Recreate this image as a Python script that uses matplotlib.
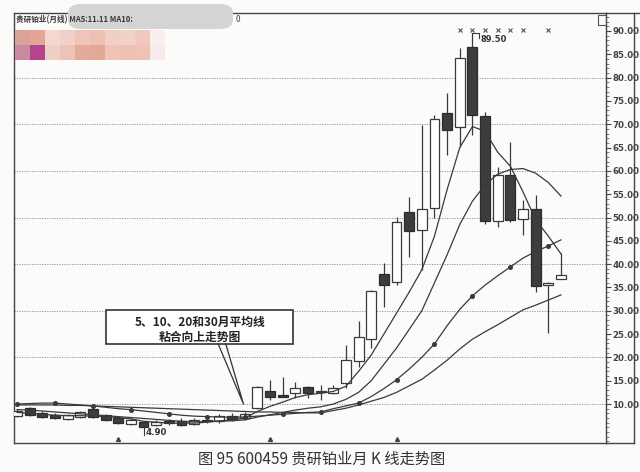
import numpy as np
import matplotlib.pyplot as plt
from matplotlib.lines import Line2D
from matplotlib.patches import Rectangle, FancyBboxPatch
from matplotlib.ticker import MultipleLocator, FixedLocator

plt.rcParams['font.family'] = ['Noto Sans CJK SC', 'DejaVu Sans']

# monthly K-line, oldest first
opens = [7.4, 9.1, 8.1, 7.6, 6.8, 7.2, 8.9, 7.6, 7.0, 5.7, 6.1, 5.5, 6.2, 6.3, 5.8,
         6.6, 6.4, 7.4, 6.9, 9.1, 12.8, 11.7, 12.4, 13.6, 12.5, 12.4, 14.5, 19.2,
         24.0, 37.8, 36.2, 51.2, 47.3, 52.0, 72.5, 69.5, 86.5, 71.7, 49.3, 59.1,
         49.7, 51.8, 35.5, 36.8]
closes = [8.5, 7.6, 7.2, 7.0, 7.6, 8.3, 7.2, 6.6, 5.9, 6.6, 5.0, 6.2, 6.0, 5.6, 6.6,
          6.3, 7.4, 6.8, 7.8, 13.6, 11.5, 11.5, 13.4, 12.4, 12.7, 13.4, 19.4, 24.4,
          34.2, 35.5, 49.1, 47.0, 51.8, 71.1, 68.7, 84.2, 72.0, 49.3, 59.1, 49.5,
          51.8, 35.3, 35.9, 37.7]
highs = [9.0, 9.4, 8.4, 8.0, 7.9, 8.6, 9.2, 7.9, 7.2, 6.9, 6.4, 6.6, 6.8, 6.9, 7.0,
         7.2, 7.8, 8.0, 8.3, 13.9, 15.2, 15.8, 14.7, 13.8, 14.1, 14.1, 22.7, 27.8,
         34.5, 40.3, 50.1, 54.3, 69.9, 72.0, 76.8, 86.4, 89.5, 72.7, 60.9, 66.3,
         53.8, 54.8, 36.2, 42.4]
lows = [7.2, 7.4, 7.0, 6.8, 6.6, 7.0, 7.0, 6.4, 5.7, 5.5, 4.9, 5.2, 5.6, 5.3, 5.5,
        5.9, 6.0, 6.4, 6.6, 8.9, 10.9, 11.4, 11.3, 11.3, 10.9, 12.1, 13.4, 18.0,
        22.0, 30.9, 35.5, 41.6, 38.8, 49.9, 63.4, 65.2, 67.7, 48.6, 48.0, 49.0,
        46.3, 34.1, 25.2, 36.8]

# moving averages
ma5 = [8.2, 8.0, 7.8, 7.6, 7.5, 7.5, 7.4, 7.3, 7.1, 6.8, 6.3, 6.1, 5.9, 5.9, 5.9,
       6.1, 6.4, 6.6, 7.0, 8.4, 9.5, 10.4, 11.4, 12.0, 12.3, 12.7, 13.8, 17.0,
       20.5, 25.0, 29.5, 34.0, 38.8, 46.0, 56.0, 65.0, 69.5, 68.5, 64.0, 61.0,
       55.5, 49.5, 46.0, 42.2]
ma10 = [8.8, 8.7, 8.5, 8.3, 8.1, 7.9, 7.7, 7.5, 7.3, 7.1, 6.9, 6.7, 6.5, 6.3, 6.2,
        6.2, 6.3, 6.4, 6.6, 7.2, 7.7, 8.2, 8.7, 9.1, 9.4, 10.0, 11.0, 12.5, 15.0,
        18.5, 22.0, 26.0, 30.0, 36.0, 42.0, 48.5, 53.5, 57.0, 59.3, 60.3, 60.5,
        59.5, 57.5, 54.6]
ma20 = [10.0, 10.1, 10.2, 10.2, 10.0, 9.8, 9.6, 9.3, 9.0, 8.8, 8.5, 8.2, 7.9, 7.6,
        7.4, 7.3, 7.2, 7.2, 7.2, 7.4, 7.6, 7.8, 8.0, 8.2, 8.3, 9.0, 9.6, 10.2, 11.6,
        13.3, 15.2, 17.5, 20.0, 22.9, 26.8, 30.3, 33.2, 35.5, 37.5, 39.4, 41.3,
        42.7, 43.9, 45.2]
ma30 = [9.8, 9.8, 9.8, 9.8, 9.7, 9.7, 9.6, 9.5, 9.4, 9.3, 9.2, 9.1, 9.0, 8.9, 8.8,
        8.7, 8.6, 8.5, 8.4, 8.3, 8.3, 8.2, 8.2, 8.1, 8.1, 8.6, 9.1, 9.8, 10.6, 11.4,
        12.5, 13.9, 15.3, 17.3, 19.4, 21.8, 23.9, 25.5, 27.0, 28.6, 30.2, 31.2,
        32.3, 33.4]

grid_levels = [10, 20, 30, 40, 50, 60, 70, 80]
peak_text = "89.50"
low_text = "4.90"
top_marks = [35, 36, 37, 38, 39, 40, 42]
bottom_marks = [8, 20, 30]

W, H = 640, 472
ink = '#3a3a3a'


def px(x, y):
    return x / W, 1 - y / H


fig = plt.figure(figsize=(6.4, 4.72), dpi=100, facecolor='#fbfbf9')
ax = fig.add_axes([14 / W, 1 - 443 / H, 592 / W, 430 / H])
ax.set_facecolor('#fbfbf9')

n = len(opens)
idx = np.arange(n)
o = np.array(opens)
c = np.array(closes)

# wicks first, bodies on top
ax.vlines(idx, lows, highs, color=ink, lw=0.9, zorder=3)
up = c >= o
body = np.maximum(np.abs(c - o), 0.35)
base = np.minimum(o, c)
ax.bar(idx[up], body[up], bottom=base[up], width=0.78, color='white',
       edgecolor=ink, lw=0.9, zorder=4)
ax.bar(idx[~up], body[~up], bottom=base[~up], width=0.78, color='#3d3d3d',
       edgecolor='#2c2c2c', lw=0.9, zorder=4)

for ma in (ma5, ma10, ma30):
    ax.plot(idx, ma, color=ink, lw=0.9, zorder=5)
ax.plot(idx, ma20, color=ink, lw=0.9, zorder=5, marker='o', markersize=2.6,
        markevery=3)

for g in grid_levels:
    ax.axhline(g, color='#8a8a8a', lw=0.6, ls=(0, (1.5, 1.5)), zorder=1)

ax.set_xlim(-0.24, 46.56)
ax.set_ylim(1.64, 93.86)

ax.set_xticks([])
ax.yaxis.tick_right()
ax.yaxis.set_major_locator(FixedLocator(np.arange(10, 95, 5)))
ax.yaxis.set_minor_locator(MultipleLocator(1))
ax.set_yticklabels([f"{v:.2f}" for v in np.arange(10, 95, 5)])
ax.tick_params(axis='y', which='major', direction='out', length=3.5, width=0.8,
               pad=1.2, colors='#444444', labelsize=6.2)
ax.tick_params(axis='y', which='minor', direction='out', length=2, width=0.6,
               colors='#666666')
for lab in ax.get_yticklabels():
    lab.set_fontweight('bold')
    lab.set_family(['DejaVu Sans'])
for s in ax.spines.values():
    s.set_color('#444444')
    s.set_linewidth(1.0)

# peak and low labels
ax.plot([36, 36.5, 36.5], [89.5, 89.5, 88.6], color=ink, lw=0.8, zorder=6)
ax.text(36.6, 88.2, peak_text, fontsize=6, fontweight='bold', color='#333333',
        family=['DejaVu Sans'], va='center', ha='left', zorder=6)
ax.plot([10, 10], [4.9, 3.3], color=ink, lw=0.8)
ax.text(10.2, 3.8, low_text, fontsize=6.2, fontweight='bold', color='#333333',
        family=['DejaVu Sans'], va='center', ha='left')
ax.plot(top_marks, [90.2] * len(top_marks), ls='none', marker='x',
        markersize=2.5, mew=0.8, color='#555555')
ax.plot(bottom_marks, [2.4] * len(bottom_marks), ls='none', marker='^',
        markersize=2.8, color='#444444')

# callout box
ax.add_patch(Rectangle((7.05, 22.9), 14.75, 7.3, facecolor='white',
                       edgecolor='#333333', lw=1.2, zorder=7))
ax.text(14.45, 27.6, "5、10、20和30月平均线", fontsize=8.5, fontweight='bold',
        ha='center', va='center', color='#222222', zorder=8)
ax.text(14.45, 24.2, "粘合向上走势图", fontsize=8.5, fontweight='bold',
        ha='center', va='center', color='#222222', zorder=8)
ax.plot([15.9, 17.9, 16.5], [22.9, 10.0, 22.9], color='#333333', lw=0.9,
        zorder=7)

# header strip (blurred in the source)
fig.text(*px(16, 20), "贵研铂业(月线) MA5:11.11 MA10:", fontsize=5.5,
         fontweight='bold', color='#3a3a3a', va='center')
fig.patches.append(FancyBboxPatch(px(68, 29), 165 / W, 25 / H,
                                  boxstyle='round,pad=0,rounding_size=0.02',
                                  transform=fig.transFigure, facecolor='#d4d4d4',
                                  edgecolor='none', zorder=3))
fig.text(*px(236, 20), "0", fontsize=6, color='#444444', va='center')
row1 = ['#d9a39a', '#e5a594', '#f2d8d0', '#f0d0c8', '#eec5bb', '#eec0b4',
        '#f0d0c6', '#f0d2c9', '#efc9bf', '#f8eeec']
row2 = ['#c98aa0', '#b5448e', '#eed0c5', '#ecc3b6', '#e6ab98', '#e6a896',
        '#efc3b6', '#eebfb2', '#eec3b6', '#f8eaea']
for k, (c1, c2) in enumerate(zip(row1, row2)):
    x0 = 15 + 15 * k
    fig.patches.append(Rectangle(px(x0, 45), 15 / W, 15 / H, transform=fig.transFigure,
                                 facecolor=c1, edgecolor='none', zorder=3))
    fig.patches.append(Rectangle(px(x0, 60), 15 / W, 15 / H, transform=fig.transFigure,
                                 facecolor=c2, edgecolor='none', zorder=3))

# outer frame of the right price panel
for (x1, y1, x2, y2) in [(606, 13, 640, 13), (634, 13, 634, 443), (606, 443, 634, 443)]:
    fig.add_artist(Line2D([x1 / W, x2 / W], [1 - y1 / H, 1 - y2 / H],
                          color='#444444', lw=1.0))
fig.patches.append(Rectangle(px(598, 25), 8 / W, 10 / H, transform=fig.transFigure,
                             facecolor='none', edgecolor='#555555', lw=0.8))

fig.text(0.503, 1 - 459 / H, "图 95 600459 贵研铂业月 K 线走势图", fontsize=11,
         ha='center', va='center', color='#333333')

fig.savefig('out.png', dpi=100, facecolor=fig.get_facecolor())
